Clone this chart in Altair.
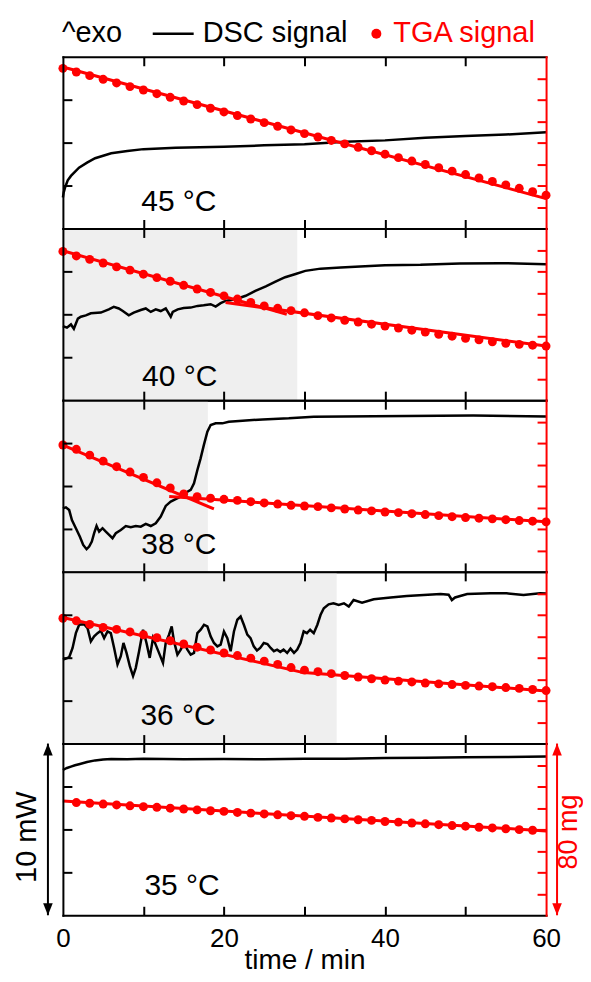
import altair as alt
import pandas as pd

W, H = 484, 172
HEAD_H = 47
RED = "#ff0000"
SHADE = "#efefef"
FONT = "Liberation Sans"

# ---------------- data ----------------
LEGEND_TEXT = ["^exo", "DSC signal", "TGA signal"]
PANEL_LABELS = ["45 °C", "40 °C", "38 °C", "36 °C", "35 °C"]
LABEL_T = [14.4, 14.5, 14.4, 14.3, 14.8]
LABEL_Y = [1.04, 0.80, 1.06, 1.08, 1.17]          # mW within panel
SHADE_END = [None, 29.1, 18.0, 34.0, None]        # min
TIME_TICKS = [10, 20, 30, 40, 50]
TIME_LABELS = [0, 20, 40, 60]
DSC_TICKS = [2.5, 5, 7.5]
TGA_TICKS = [10, 20, 30, 40, 50, 60, 70]
SCALE_BAR_DSC = [0, 10]     # mW
SCALE_BAR_TGA = [0, 80]     # mg

TGA_T = [0, 1.67, 3.33, 5, 6.67, 8.33, 10, 11.67, 13.33, 15, 16.67, 18.33, 20,
         21.67, 23.33, 25, 26.67, 28.33, 30, 31.67, 33.33, 35, 36.67, 38.33, 40,
         41.67, 43.33, 45, 46.67, 48.33, 50, 51.67, 53.33, 55, 56.67, 58.33, 60]

# panel 1 (45 °C)
DSC1_T = [0, 0.1, 0.3, 0.6, 1, 2, 3, 4, 6, 8, 10, 14, 20, 25, 30, 35, 40, 45, 50, 55, 60]
DSC1_V = [1.8, 2.1, 2.43, 2.8, 3.06, 3.54, 3.83, 4.09, 4.38, 4.51, 4.62, 4.70, 4.76,
          4.84, 4.91, 5.05, 5.13, 5.28, 5.38, 5.47, 5.61]
TGA1_V = [74.6, 72.9, 71.2, 69.5, 67.8, 66.1, 64.5, 62.8, 61.1, 59.4, 57.7, 56.0, 54.3,
          52.6, 51.0, 49.3, 47.6, 45.9, 44.2, 42.6, 41.0, 39.4, 37.8, 36.2, 34.6, 33.0,
          31.4, 29.8, 28.3, 26.7, 25.1, 23.5, 21.9, 20.3, 18.7, 17.1, 15.5]
FIT1_T = [0, 60]
FIT1_V = [75.2, 13.9]
FIT1_S = [0, 0]

# panel 2 (40 °C)
DSC2_T = [0, 0.5, 1.0, 1.36, 1.86, 2.23, 2.85, 3.47, 4.71, 5.70, 6.32, 6.94, 7.44, 8.18,
          8.80, 9.67, 10.29, 10.91, 11.53, 12.15, 12.77, 13.39, 13.64, 14.26, 15.0, 15.87,
          16.73, 17.48, 18.35, 18.97, 19.59, 20.2, 21.45, 22.7, 23.9, 25.2, 26.4, 27.6,
          28.9, 30.1, 32.0, 34.5, 36.9, 40.0, 44.4, 49.3, 54.3, 60]
DSC2_V = [4.31, 4.22, 4.41, 4.16, 4.75, 4.86, 4.94, 5.06, 5.10, 5.29, 5.43, 5.34, 5.19,
          4.94, 5.10, 5.25, 5.34, 5.14, 5.29, 5.19, 5.34, 4.86, 5.14, 5.29, 5.37, 5.39,
          5.49, 5.53, 5.59, 5.45, 5.65, 5.78, 5.88, 6.08, 6.37, 6.63, 6.90, 7.16, 7.35,
          7.53, 7.66, 7.72, 7.78, 7.86, 7.88, 7.96, 7.98, 7.92]
TGA2_V = [69.3, 67.2, 65.6, 63.9, 62.1, 60.6, 58.7, 57.1, 55.4, 53.5, 51.8, 50.2, 48.6,
          47.1, 45.5, 43.9, 42.8, 41.7, 40.7, 39.4, 38.3, 37.2, 36.4, 35.4, 34.5, 33.6,
          32.6, 31.7, 30.7, 29.8, 28.8, 28.1, 27.2, 26.5, 26.0, 25.6, 25.2]
FIT2_T = [0, 27.8, 20.2, 60]
FIT2_V = [69.6, 40.0, 45.5, 25.2]
FIT2_S = [0, 0, 1, 1]

# panel 3 (38 °C)
DSC3_T = [0, 0.37, 0.78, 1.12, 1.61, 2.11, 2.52, 2.94, 3.26, 3.59, 3.88, 4.18, 4.50,
          4.92, 5.33, 5.74, 6.16, 6.57, 7.19, 7.81, 8.43, 9.05, 9.67, 10.29, 10.91,
          11.53, 12.15, 12.77, 13.39, 14.0, 14.6, 15.25, 15.87, 16.28, 16.70, 17.1,
          17.5, 17.94, 18.35, 18.97, 19.8, 20.6, 22.3, 24.8, 28.05, 31.15, 38.55, 50.95, 60]
DSC3_V = [3.70, 3.76, 3.60, 3.02, 2.54, 2.05, 1.57, 1.32, 1.47, 1.76, 2.25, 2.67, 2.34,
          2.54, 2.34, 2.15, 1.96, 2.25, 2.44, 2.67, 2.60, 2.67, 2.63, 2.79, 2.67, 2.83,
          3.22, 3.84, 4.09, 4.23, 4.38, 4.61, 4.77, 5.16, 5.93, 6.61, 7.38, 8.16, 8.55,
          8.65, 8.65, 8.74, 8.80, 8.88, 8.94, 9.03, 9.07, 9.11, 9.05]
TGA3_V = [59.1, 57.1, 54.4, 51.6, 49.0, 46.5, 44.0, 41.5, 39.1, 36.3, 35.0, 34.3, 33.8,
          33.3, 32.7, 32.1, 31.6, 31.0, 30.7, 30.4, 29.8, 29.3, 28.8, 28.4, 27.9, 27.6,
          27.1, 26.7, 26.2, 25.7, 25.3, 25.0, 24.7, 24.3, 23.9, 23.6, 23.3]
FIT3_T = [0, 18.75, 13.2, 60]
FIT3_V = [59.1, 29.3, 35.1, 23.3]
FIT3_S = [0, 0, 1, 1]

# panel 4 (36 °C)
DSC4_T = [0, 0.37, 0.78, 1.20, 1.61, 2.02, 2.64, 3.06, 3.47, 3.88,
          4.30, 4.71, 5.12, 5.54, 5.95, 6.36, 6.78, 7.19, 7.52, 7.90,
          8.31, 8.71, 9.05, 9.46, 9.95, 10.38, 10.78, 11.19, 11.61, 12.02,
          12.43, 12.77, 13.18, 13.51, 13.80, 14.22, 14.63, 15.04, 15.46, 15.87,
          16.28, 16.70, 17.11, 17.52, 17.94, 18.35, 18.76, 19.18, 19.59, 20.0,
          20.42, 20.83, 21.24, 21.66, 22.07, 22.47, 22.9, 23.3, 23.7, 24.1,
          24.5, 24.95, 25.4, 25.8, 26.2, 26.6, 27.0, 27.4, 27.85, 28.26,
          28.7, 29.1, 29.5, 29.9, 30.3, 30.7, 31.15, 31.6, 32.0, 32.4,
          33.0, 33.6, 34.25, 34.9, 35.5, 36.1, 37.15, 38.6, 40.7, 42.7,
          44.8, 46.9, 47.9, 48.3, 48.7, 50.2, 53.1, 55.1, 57.2, 59.25, 60]
DSC4_V = [4.90, 4.95, 5.03, 5.57, 6.43, 6.92, 6.95, 6.72, 5.95, 6.24,
          6.43, 6.57, 6.14, 6.53, 6.43, 5.57, 4.61, 5.09, 5.86, 5.28,
          4.51, 3.93, 4.41, 5.38, 6.63, 5.86, 4.99, 6.14, 5.66, 5.18,
          4.70, 5.86, 6.34, 6.82, 5.95, 5.18, 5.47, 5.86, 5.47, 5.18,
          5.28, 6.43, 6.63, 6.92, 6.82, 6.24, 5.86, 5.66, 5.76, 6.53,
          6.14, 5.38, 6.53, 7.21, 7.40, 6.92, 6.34, 6.14, 5.66, 5.42,
          5.57, 5.86, 5.80, 5.57, 5.38, 5.47, 5.34, 5.47, 5.28, 5.53,
          5.28, 5.47, 5.86, 6.53, 6.43, 6.63, 6.43, 6.92, 7.50, 7.88,
          8.11, 8.17, 8.08, 8.17, 7.98, 8.36, 8.21, 8.40, 8.51, 8.60,
          8.65, 8.71, 8.67, 8.36, 8.51, 8.71, 8.75, 8.75, 8.65, 8.75, 8.74]
TGA4_V = [58.4, 57.2, 55.5, 54.1, 53.2, 52.0, 50.7, 49.3, 47.9, 46.4, 44.9, 43.6, 42.2,
          41.0, 39.8, 38.4, 36.9, 35.4, 34.2, 33.5, 32.6, 31.7, 31.0, 30.2, 29.6, 29.1,
          28.7, 28.2, 27.8, 27.5, 27.1, 26.8, 26.5, 26.1, 25.7, 25.2, 24.7]
FIT4_T = [0, 29.6, 29.5, 60]
FIT4_V = [58.7, 33.3, 33.2, 24.5]
FIT4_S = [0, 0, 1, 1]

# panel 5 (35 °C)
DSC5_T = [0, 0.5, 1, 1.5, 2, 3, 4, 5, 6, 8, 10, 15, 20, 25, 30, 35, 40, 45, 50, 55, 60]
DSC5_V = [8.46, 8.58, 8.66, 8.74, 8.80, 8.93, 9.02, 9.07, 9.10, 9.09, 9.11, 9.08, 9.10,
          9.09, 9.12, 9.12, 9.16, 9.18, 9.20, 9.22, 9.24]
TGA5_V = [52.5, 52.2, 51.8, 51.4, 51.0, 50.6, 50.3, 49.9, 49.5, 49.1, 48.7, 48.4, 47.9,
          47.6, 47.2, 46.8, 46.4, 46.1, 45.6, 45.3, 44.9, 44.5, 44.2, 43.7, 43.4, 43.0,
          42.6, 42.2, 41.8, 41.5, 41.0, 40.7, 40.3, 39.9, 39.6]
FIT5_T = [0, 60]
FIT5_V = [53.2, 39.3]
FIT5_S = [0, 0]

# ---------------- helpers ----------------
X_SCALE = alt.Scale(domain=[0, 60], nice=False, zero=False)
DSC_SCALE = alt.Scale(domain=[0, 10], nice=False, zero=False)
TGA_SCALE = alt.Scale(domain=[0, 80], nice=False, zero=False)

common_axis = dict(labels=False, title=None, grid=False, zindex=2,
                   tickSize=9, tickWidth=2, domainWidth=2, domainCap="square",
                   minExtent=0, maxExtent=0)

top_axis = alt.Axis(orient="bottom", offset=-H, values=TIME_TICKS,
                    tickColor="black", domainColor="black", **common_axis)
bottom_axis = alt.Axis(orient="top", offset=-H, values=TIME_TICKS,
                       tickColor="black", domainColor="black", **common_axis)
dsc_axis = alt.Axis(orient="right", offset=-W, values=DSC_TICKS,
                    tickColor="black", domainColor="black", **common_axis)
tga_axis = alt.Axis(orient="left", offset=-W, values=TGA_TICKS,
                    tickColor=RED, domainColor=RED, **common_axis)
label_axis = alt.Axis(orient="bottom", values=TIME_LABELS, ticks=False, tickSize=0,
                      domain=False, grid=False, labelFontSize=26, labelFont=FONT,
                      labelColor="black", labelPadding=10, labelFlush=False,
                      title="time / min", titleFontSize=28, titleFont=FONT,
                      titleFontWeight="normal", titleColor="black", titlePadding=-5,
                      format="d")


def legend_layers():
    hb = alt.Chart(pd.DataFrame({"label": LEGEND_TEXT}))
    pick = lambda k: hb.transform_filter(alt.datum.label == LEGEND_TEXT[k])
    txt = dict(align="left", baseline="alphabetic", fontSize=29, font=FONT)
    return [
        pick(0).mark_text(color="black", **txt).encode(
            text="label:N", x=alt.value(-1), y=alt.value(-15)),
        pick(1).mark_rule(color="black", strokeWidth=2.5).encode(
            x=alt.value(90), x2=alt.value(131), y=alt.value(-23)),
        pick(1).mark_text(color="black", **txt).encode(
            text="label:N", x=alt.value(140), y=alt.value(-15)),
        pick(2).mark_circle(color=RED, size=100, opacity=1).encode(
            x=alt.value(314), y=alt.value(-23)),
        pick(2).mark_text(color=RED, **txt).encode(
            text="label:N", x=alt.value(331), y=alt.value(-15)),
        # invisible anchor fixing the top margin
        pick(0).mark_rule(color="white", strokeWidth=1).encode(
            x=alt.value(0), x2=alt.value(1), y=alt.value(-HEAD_H + 0.5)),
    ]


def panel(i, dsc_t, dsc_v, tga_t, tga_v, fit_t, fit_v, fit_s, top=False, bottom=False):
    layers = []
    if SHADE_END[i] is not None:
        shade = pd.DataFrame({"s": [0], "e": [SHADE_END[i]]})
        layers.append(alt.Chart(shade).mark_rect(color=SHADE).encode(
            x=alt.X("s:Q", scale=X_SCALE, axis=None), x2="e:Q"))
    dsc = pd.DataFrame({"t": dsc_t, "v": dsc_v})
    layers.append(alt.Chart(dsc).mark_line(color="black", strokeWidth=2.5).encode(
        x=alt.X("t:Q", scale=X_SCALE, axis=top_axis),
        y=alt.Y("v:Q", scale=DSC_SCALE, axis=dsc_axis)))
    fit = pd.DataFrame({"t": fit_t, "m": fit_v, "seg": fit_s})
    layers.append(alt.Chart(fit).mark_line(color=RED, strokeWidth=3).encode(
        x=alt.X("t:Q", scale=X_SCALE, axis=bottom_axis),
        y=alt.Y("m:Q", scale=TGA_SCALE, axis=tga_axis),
        detail="seg:N"))
    tga = pd.DataFrame({"t": tga_t, "m": tga_v})
    layers.append(alt.Chart(tga).mark_circle(color=RED, size=80, opacity=1).encode(
        x=alt.X("t:Q", scale=X_SCALE, axis=label_axis if bottom else None),
        y=alt.Y("m:Q", scale=TGA_SCALE, axis=None)))
    lab = pd.DataFrame({"t": [LABEL_T[i]], "v": [LABEL_Y[i]], "txt": [PANEL_LABELS[i]]})
    layers.append(alt.Chart(lab).mark_text(fontSize=30, font=FONT, color="black",
                                           align="center", baseline="alphabetic").encode(
        x=alt.X("t:Q", scale=X_SCALE, axis=None),
        y=alt.Y("v:Q", scale=DSC_SCALE, axis=None),
        text="txt:N"))
    if top:
        layers.extend(legend_layers())
    if bottom:
        bar_d = pd.DataFrame({"lo": [SCALE_BAR_DSC[0]], "hi": [SCALE_BAR_DSC[1]],
                              "mid": [4.55], "txt": ["10 mW"]})
        bar_t = pd.DataFrame({"lo": [SCALE_BAR_TGA[0]], "hi": [SCALE_BAR_TGA[1]],
                              "mid": [38.8], "txt": ["80 mg"]})
        up = "M0,-1L0.8,1L-0.8,1Z"
        down = "M0,1L0.8,-1L-0.8,-1Z"
        for df, sc, col, xs, xt, fs in [(bar_d, DSC_SCALE, "black", -15, -36, 29),
                                        (bar_t, TGA_SCALE, RED, 495, 507, 27)]:
            c = alt.Chart(df)
            layers.append(c.mark_rule(color=col, strokeWidth=2).encode(
                x=alt.value(xs), y=alt.Y("lo:Q", scale=sc, axis=None), y2="hi:Q"))
            layers.append(c.mark_point(shape=up, filled=True, size=144, color=col,
                                       opacity=1, yOffset=6).encode(
                x=alt.value(xs), y=alt.Y("hi:Q", scale=sc, axis=None)))
            layers.append(c.mark_point(shape=down, filled=True, size=144, color=col,
                                       opacity=1, yOffset=-6).encode(
                x=alt.value(xs), y=alt.Y("lo:Q", scale=sc, axis=None)))
            layers.append(c.mark_text(angle=270, fontSize=fs, font=FONT, color=col,
                                      align="center", baseline="middle").encode(
                x=alt.value(xt), y=alt.Y("mid:Q", scale=sc, axis=None), text="txt:N"))
        # invisible anchor fixing the left margin
        layers.append(alt.Chart(bar_d).mark_rule(color="white", strokeWidth=1).encode(
            x=alt.value(-53.5), y=alt.value(H - 1), y2=alt.value(H)))
    return (alt.layer(*layers)
            .resolve_scale(y="independent")
            .resolve_axis(x="independent", y="independent")
            .properties(width=W, height=H))


p1 = panel(0, DSC1_T, DSC1_V, TGA_T, TGA1_V, FIT1_T, FIT1_V, FIT1_S, top=True)
p2 = panel(1, DSC2_T, DSC2_V, TGA_T, TGA2_V, FIT2_T, FIT2_V, FIT2_S)
p3 = panel(2, DSC3_T, DSC3_V, TGA_T, TGA3_V, FIT3_T, FIT3_V, FIT3_S)
p4 = panel(3, DSC4_T, DSC4_V, TGA_T, TGA4_V, FIT4_T, FIT4_V, FIT4_S)
p5 = panel(4, DSC5_T, DSC5_V, TGA_T[1:36], TGA5_V, FIT5_T, FIT5_V, FIT5_S, bottom=True)

chart = (alt.vconcat(p1, p2, p3, p4, p5, spacing=0, bounds="flush")
         .properties(padding=0)
         .configure_view(strokeWidth=0, strokeOpacity=0)
         .configure(font=FONT))

chart.save("out.html", embed_options={"renderer": "svg", "actions": False})
